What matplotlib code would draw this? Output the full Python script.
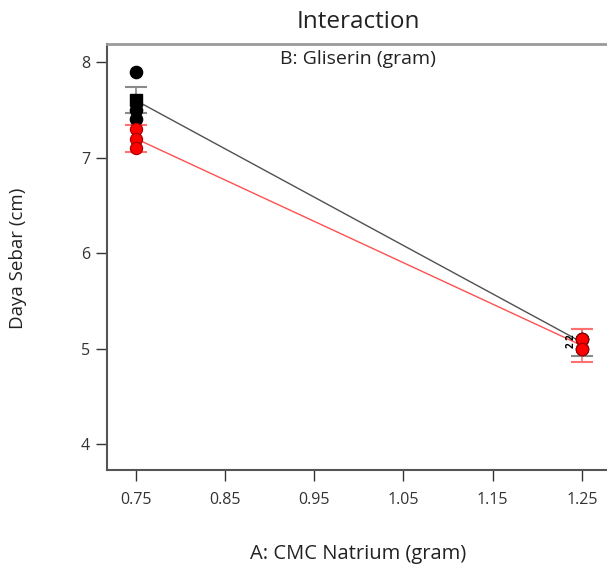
import matplotlib
matplotlib.use("Agg")
import matplotlib.pyplot as plt
import numpy as np

plt.rcParams['font.family'] = ['Open Sans', 'DejaVu Sans']

# Data
x_levels = [0.75, 1.25]
black_points = {0.75: [7.9, 7.5, 7.4], 1.25: [5.1, 5.1, 5.0]}
red_points = {0.75: [7.3, 7.2, 7.1], 1.25: [5.1, 5.0, 5.0]}
black_means = [7.6, 5.067]
red_means = [7.2, 5.033]
black_err = [0.135, 0.14]
red_err = [0.14, 0.17]
xticks = [0.75, 0.85, 0.95, 1.05, 1.15, 1.25]
yticks = [4, 5, 6, 7, 8]

fig = plt.figure(figsize=(6.07, 5.67), dpi=100)
W, H = 607, 567
left, right, top, bottom = 106.7, 609, 44, 470
ax = fig.add_axes([left / W, 1 - bottom / H, (right - left) / W, (bottom - top) / H])

ax.set_xlim(0.7175, 1.2803)
ax.set_ylim(3.73, 8.19)

# lines
ax.plot(x_levels, black_means, color='#505050', lw=1.0, zorder=2)
ax.plot(x_levels, red_means, color='#ff5050', lw=1.0, zorder=2)

# error bars
for xv, m, e in zip(x_levels, black_means, black_err):
    ax.errorbar([xv], [m], yerr=[e], fmt='none', ecolor='#8a8a8a', elinewidth=1.2,
                capsize=8, capthick=1.5, zorder=3)
for xv, m, e in zip(x_levels, red_means, red_err):
    ax.errorbar([xv], [m], yerr=[e], fmt='none', ecolor='#ff7070', elinewidth=1.2,
                capsize=8, capthick=1.5, zorder=3)

# points
for xv in x_levels:
    ax.plot([xv] * len(black_points[xv]), black_points[xv], 'o', color='black',
            markersize=8.8, markeredgecolor='black', zorder=4)
ax.plot([x_levels[0]], [black_means[0]], 's', color='black', markersize=8.2, zorder=5)
for xv in x_levels:
    ax.plot([xv] * len(red_points[xv]), red_points[xv], 'o', color='#ff0000',
            markersize=8.8, markeredgecolor='#a00000', markeredgewidth=0.8, zorder=6)

# "2" labels for overlapping points
ax.text(1.2375, 5.125, '2', rotation=90, fontsize=7, fontweight='bold',
        ha='center', va='center', zorder=7)
ax.text(1.2375, 5.035, '2', rotation=90, fontsize=7, fontweight='bold',
        ha='center', va='center', zorder=7)

ax.set_xticks(xticks)
ax.set_xticklabels([f'{t:.2f}' for t in xticks])
ax.set_yticks(yticks)
ax.tick_params(axis='both', labelsize=11.5, colors='#333333', length=8, width=1.0)
ax.tick_params(axis='x', pad=8)
ax.tick_params(axis='y', pad=4)
for t in ax.get_xticklines() + ax.get_yticklines():
    t.set_color('#666666')

for s in ['left', 'bottom']:
    ax.spines[s].set_color('#555555')
    ax.spines[s].set_linewidth(1.5)
for s in ['top', 'right']:
    ax.spines[s].set_color('#9a9a9a')
    ax.spines[s].set_linewidth(2)

fig.text(358 / W, 1 - 22 / H, 'Interaction', ha='center', va='center', fontsize=17.5, color='#222222')
fig.text(358 / W, 1 - 59 / H, 'B: Gliserin (gram)', ha='center', va='center', fontsize=14, color='#222222')
fig.text(358 / W, 1 - 554 / H, 'A: CMC Natrium (gram)', ha='center', va='center', fontsize=14.5, color='#222222')
fig.text(18 / W, 1 - 258 / H, 'Daya Sebar (cm)', ha='center', va='center', rotation=90,
         fontsize=13.5, color='#222222')

fig.savefig('out.png', dpi=100)
